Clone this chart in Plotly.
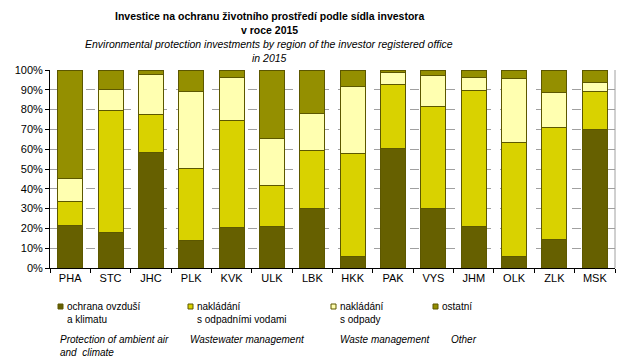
import plotly.graph_objects as go

regions = ["PHA", "STC", "JHC", "PLK", "KVK", "ULK", "LBK", "HKK", "PAK", "VYS", "JHM", "OLK", "ZLK", "MSK"]
air = [21.3, 17.8, 58.2, 13.8, 20.3, 20.8, 29.9, 5.7, 60.2, 29.9, 20.8, 5.7, 14.3, 69.7]
wastewater = [12.5, 61.9, 19.4, 36.3, 54.3, 21.0, 29.6, 52.3, 32.6, 51.8, 68.9, 57.8, 56.8, 19.5]
waste = [11.6, 10.6, 20.2, 39.1, 21.7, 23.7, 18.7, 33.8, 6.0, 15.6, 6.6, 32.3, 17.6, 4.6]
other = [54.6, 9.7, 2.2, 10.8, 3.7, 34.5, 21.8, 8.2, 1.2, 2.7, 3.7, 4.2, 11.3, 6.2]

series_cz = ["ochrana ovzduší<br>a klimatu", "nakládání<br>s odpadními vodami", "nakládání<br>s odpady", "ostatní"]
series_en = ["Protection of ambient air<br>and  climate", "Wastewater management", "Waste management", "Other"]
colors = ["#666000", "#D9D200", "#FFFFB0", "#948F00"]
outline = "#5C5700"

L, R, T, B = 50, 615, 70, 268
PW, PH = R - L, B - T

def px(x):
    return (x - L) / PW

def py(y):
    return (B - y) / PH

fig = go.Figure()
for vals, name, col in zip([air, wastewater, waste, other], series_cz, colors):
    fig.add_trace(go.Bar(x=regions, y=vals, name=name,
                         marker=dict(color=col, line=dict(color=outline, width=1)),
                         showlegend=False))

font = "Liberation Sans, Arial, sans-serif"
fig.update_layout(
    barmode="stack", bargap=0.38,
    width=627, height=364, autosize=False,
    margin=dict(l=L, r=627 - R, t=T, b=364 - B, autoexpand=False),
    paper_bgcolor="white", plot_bgcolor="white",
    font=dict(family=font, size=10, color="#000"),
    xaxis=dict(showline=True, linecolor="#000", linewidth=1, ticks="outside", ticklen=4,
               tickcolor="#000", tickson="boundaries", tickfont=dict(size=11), showgrid=False,
               automargin=False),
    yaxis=dict(range=[0, 100], dtick=10, ticksuffix="%", showline=True, linecolor="#000",
               linewidth=1, ticks="outside", ticklen=4, tickcolor="#000",
               showgrid=True, gridcolor="#A0A0A0", griddash="dash", gridwidth=1,
               zeroline=False, tickfont=dict(size=11), automargin=False),
)

fig.add_shape(type="line", xref="paper", yref="paper", x0=1, x1=1, y0=0, y1=1,
              line=dict(color="#A0A0A0", width=1))

titles = [
    ("<b>Investice na ochranu životního prostředí podle sídla investora</b>", 16),
    ("<b>v roce 2015</b>", 30),
    ("<i>Environmental protection investments by region of the investor registered office</i>", 44),
    ("<i>in 2015</i>", 58),
]
for text, ypx in titles:
    fig.add_annotation(text=text, xref="paper", yref="paper", x=px(269), y=py(ypx),
                       xanchor="center", yanchor="middle", showarrow=False,
                       font=dict(size=10.5, family=font, color="#000"))

mark_x = [58, 188, 331, 433]
en_x = [58, 188, 338, 449]
for mx, ex, cz, en, col in zip(mark_x, en_x, series_cz, series_en, colors):
    fig.add_shape(type="rect", xref="paper", yref="paper",
                  x0=px(mx), x1=px(mx + 5), y0=py(309), y1=py(304),
                  fillcolor=col, line=dict(color=outline, width=1))
    fig.add_annotation(text=cz, xref="paper", yref="paper", x=px(mx + 7),
                       y=py(299), xanchor="left", yanchor="top", align="left",
                       showarrow=False, font=dict(size=10, family=font, color="#000"))
    fig.add_annotation(text=f"<i>{en}</i>", xref="paper", yref="paper", x=px(ex),
                       y=py(332), xanchor="left", yanchor="top", align="left",
                       showarrow=False, font=dict(size=10, family=font, color="#000"))

fig.write_html("out.html", config={"displayModeBar": False},
               post_script="document.body.style.margin='0';document.body.style.overflow='hidden';")
